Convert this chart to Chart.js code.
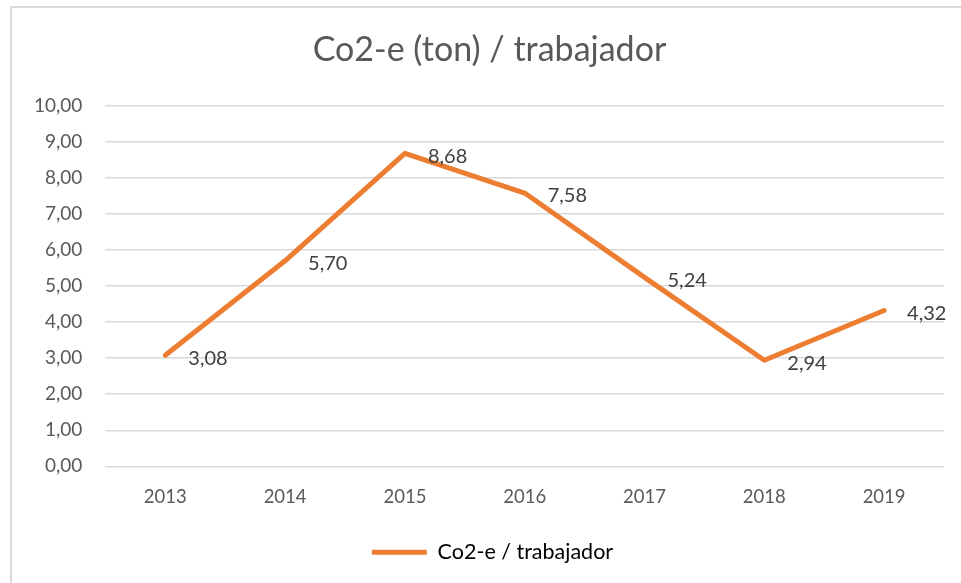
<!DOCTYPE html>
<html>
<head>
<meta charset="utf-8">
<script src="https://cdn.jsdelivr.net/npm/chart.js@4/dist/chart.umd.min.js"></script>
<style>
html,body{margin:0;padding:0;background:#fff;}
#frame{position:absolute;left:10px;top:6px;width:980px;height:600px;border-top:2px solid #d9d9d9;border-left:2px solid #d9d9d9;box-sizing:border-box;}
#wrap{position:absolute;left:0;top:0;width:961px;height:583px;}
</style>
</head>
<body>
<div id="frame"></div>
<div id="wrap"><canvas id="c" width="961" height="583"></canvas></div>
<script>
const categories = ['2013','2014','2015','2016','2017','2018','2019'];
const values = [3.08, 5.70, 8.68, 7.58, 5.24, 2.94, 4.32];
const yTicks = [0,1,2,3,4,5,6,7,8,9,10];
const seriesName = 'Co2-e / trabajador';
const titleText = 'Co2-e (ton) / trabajador';
const FONT = 'Lato, "Open Sans", sans-serif';
const fmt = v => v.toFixed(2).replace('.', ',');

const labelPlugin = {
  id: 'dataLabels',
  afterDatasetsDraw(chart) {
    const ctx = chart.ctx;
    const meta = chart.getDatasetMeta(0);
    ctx.save();
    ctx.font = '20px ' + FONT;
    ctx.fillStyle = '#404040';
    ctx.textAlign = 'left';
    ctx.textBaseline = 'middle';
    meta.data.forEach((pt, i) => {
      ctx.fillText(fmt(values[i]), pt.x + 23, pt.y + 3);
    });
    ctx.restore();
  }
};

// Centre title and legend over the whole frame rather than the padded area
const centerShift = {
  id: 'centerShift',
  afterLayout(chart) {
    if (chart.titleBlock) { chart.titleBlock.left += 12; chart.titleBlock.right += 12; }
    if (chart.legend) { chart.legend.left += 15; chart.legend.right += 15; }
  }
};

new Chart(document.getElementById('c'), {
  type: 'line',
  data: {
    labels: categories,
    datasets: [{
      label: seriesName,
      data: values,
      borderColor: '#ED7D31',
      backgroundColor: '#ED7D31',
      borderWidth: 5,
      pointRadius: 0,
      borderCapStyle: 'round',
      borderJoinStyle: 'round',
      tension: 0
    }]
  },
  options: {
    responsive: false,
    animation: false,
    layout: {padding: {left: 11, right: 17, top: 0, bottom: 10}},
    plugins: {
      title: {
        display: true,
        text: titleText,
        color: '#595959',
        font: {family: FONT, size: 34, weight: 'normal'},
        padding: {top: 30, bottom: 35}
      },
      legend: {
        position: 'bottom',
        labels: {
          color: '#595959',
          font: {family: FONT, size: 21.5},
          boxWidth: 55,
          boxHeight: 5,
          padding: 21,
          generateLabels: () => [{
            text: seriesName,
            fillStyle: '#ED7D31',
            strokeStyle: '#ED7D31',
            lineWidth: 0,
            hidden: false,
            datasetIndex: 0
          }]
        }
      },
      tooltip: {enabled: false}
    },
    scales: {
      x: {
        offset: true,
        grid: {display: false},
        border: {display: false},
        ticks: {color: '#595959', font: {family: FONT, size: 18.5}, padding: 12}
      },
      y: {
        min: 0,
        max: 10,
        afterBuildTicks: s => { s.ticks = yTicks.map(v => ({value: v})); },
        grid: {color: '#d9d9d9', lineWidth: 1.5, drawTicks: false},
        border: {display: false},
        ticks: {color: '#595959', font: {family: FONT, size: 19}, padding: 23, callback: v => fmt(v)}
      }
    }
  },
  plugins: [labelPlugin, centerShift]
});
</script>
</body>
</html>
